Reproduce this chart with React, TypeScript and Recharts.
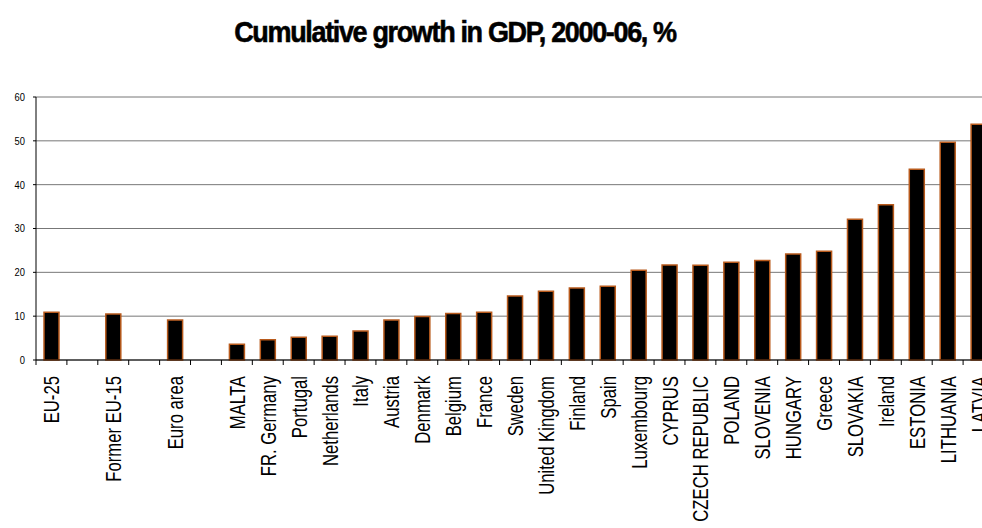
import React from "react";
import { BarChart, Bar, XAxis, YAxis, CartesianGrid } from "recharts";

const categories = [
  "EU-25", "", "Former EU-15", "", "Euro area", "",
  "MALTA", "FR. Germany", "Portugal", "Netherlands", "Italy", "Austria",
  "Denmark", "Belgium", "France", "Sweden", "United Kingdom", "Finland",
  "Spain", "Luxembourg", "CYPRUS", "CZECH REPUBLIC", "POLAND", "SLOVENIA",
  "HUNGARY", "Greece", "SLOVAKIA", "Ireland", "ESTONIA", "LITHUANIA", "LATVIA",
];

const growth: (number | null)[] = [
  10.9, null, 10.5, null, 9.1, null,
  3.6, 4.6, 5.2, 5.4, 6.6, 9.1,
  9.9, 10.6, 10.9, 14.6, 15.7, 16.4,
  16.8, 20.5, 21.7, 21.6, 22.3, 22.7,
  24.2, 24.8, 32.1, 35.4, 43.5, 49.7, 53.8,
];

const yTicks = [0, 10, 20, 30, 40, 50, 60];

const title = "Cumulative growth in GDP, 2000-06, %";

const CHART_W = 1000;
const CHART_H = 528;
const MARGIN = { top: 97, right: 6, left: 0, bottom: 0 };
const Y_AXIS_W = 36;
const STEP = (CHART_W - MARGIN.left - MARGIN.right - Y_AXIS_W) / categories.length;

const data = categories.map((name, i) => ({ id: i, name, value: growth[i] }));

function XTick(props: any) {
  const { x, y, payload, index } = props;
  const isLast = index === categories.length - 1;
  return (
    <g>
      <line x1={x - STEP / 2} x2={x - STEP / 2} y1={y} y2={y + 5} stroke="#000" />
      {isLast && <line x1={x + STEP / 2} x2={x + STEP / 2} y1={y} y2={y + 5} stroke="#000" />}
      <g transform={`translate(${x},${y + 16}) rotate(-90) scale(0.76,1)`}>
        <text
          x={0}
          y={0}
          dy={8}
          textAnchor="end"
          fontSize={22}
          fill="#000"
          fontFamily="'Liberation Sans', Arial, sans-serif"
        >
          {categories[payload.index ?? index] ?? payload.value}
        </text>
      </g>
    </g>
  );
}

function YTick(props: any) {
  const { x, y, payload } = props;
  return (
    <g transform={`translate(${x},${y}) scale(0.85,1)`}>
      <text
        x={0}
        y={0}
        dy="0.35em"
        textAnchor="end"
        fontSize={11}
        fill="#000"
        fontFamily="'Liberation Sans', Arial, sans-serif"
      >
        {payload.value}
      </text>
    </g>
  );
}

export default function App() {
  return (
    <div
      style={{
        position: "fixed",
        left: 0,
        top: 0,
        width: 982,
        height: 528,
        overflow: "hidden",
        background: "#fff",
      }}
    >
      <div
        style={{
          position: "absolute",
          left: 0,
          top: 17,
          width: 910,
          textAlign: "center",
          fontFamily: "'Liberation Sans', Arial, sans-serif",
          fontWeight: 700,
          fontSize: 30,
          lineHeight: "30px",
          letterSpacing: -1.5,
          transform: "scaleX(0.9)",
          transformOrigin: "455px 0",
          WebkitTextStroke: "0.6px #000",
          color: "#000",
          whiteSpace: "nowrap",
        }}
      >
        {title}
      </div>
      <div style={{ position: "absolute", left: 0, top: 0 }}>
        <BarChart width={CHART_W} height={CHART_H} data={data} margin={MARGIN}>
          <CartesianGrid vertical={false} stroke="#777" strokeWidth={1} />
          <XAxis
            dataKey="id"
            type="category"
            interval={0}
            height={168}
            tickLine={false}
            tickSize={0}
            tickMargin={0}
            axisLine={{ stroke: "#000" }}
            tick={(p: any) => <XTick {...p} />}
          />
          <YAxis
            domain={[0, 60]}
            ticks={yTicks}
            width={Y_AXIS_W}
            tickSize={3}
            tickMargin={8}
            axisLine={{ stroke: "#000" }}
            tickLine={{ stroke: "#000" }}
            tick={(p: any) => <YTick {...p} />}
            interval={0}
          />
          <Bar
            dataKey="value"
            fill="#000"
            stroke="#b85a1c"
            strokeWidth={1.5}
            barSize={15}
            isAnimationActive={false}
          />
        </BarChart>
      </div>
    </div>
  );
}
